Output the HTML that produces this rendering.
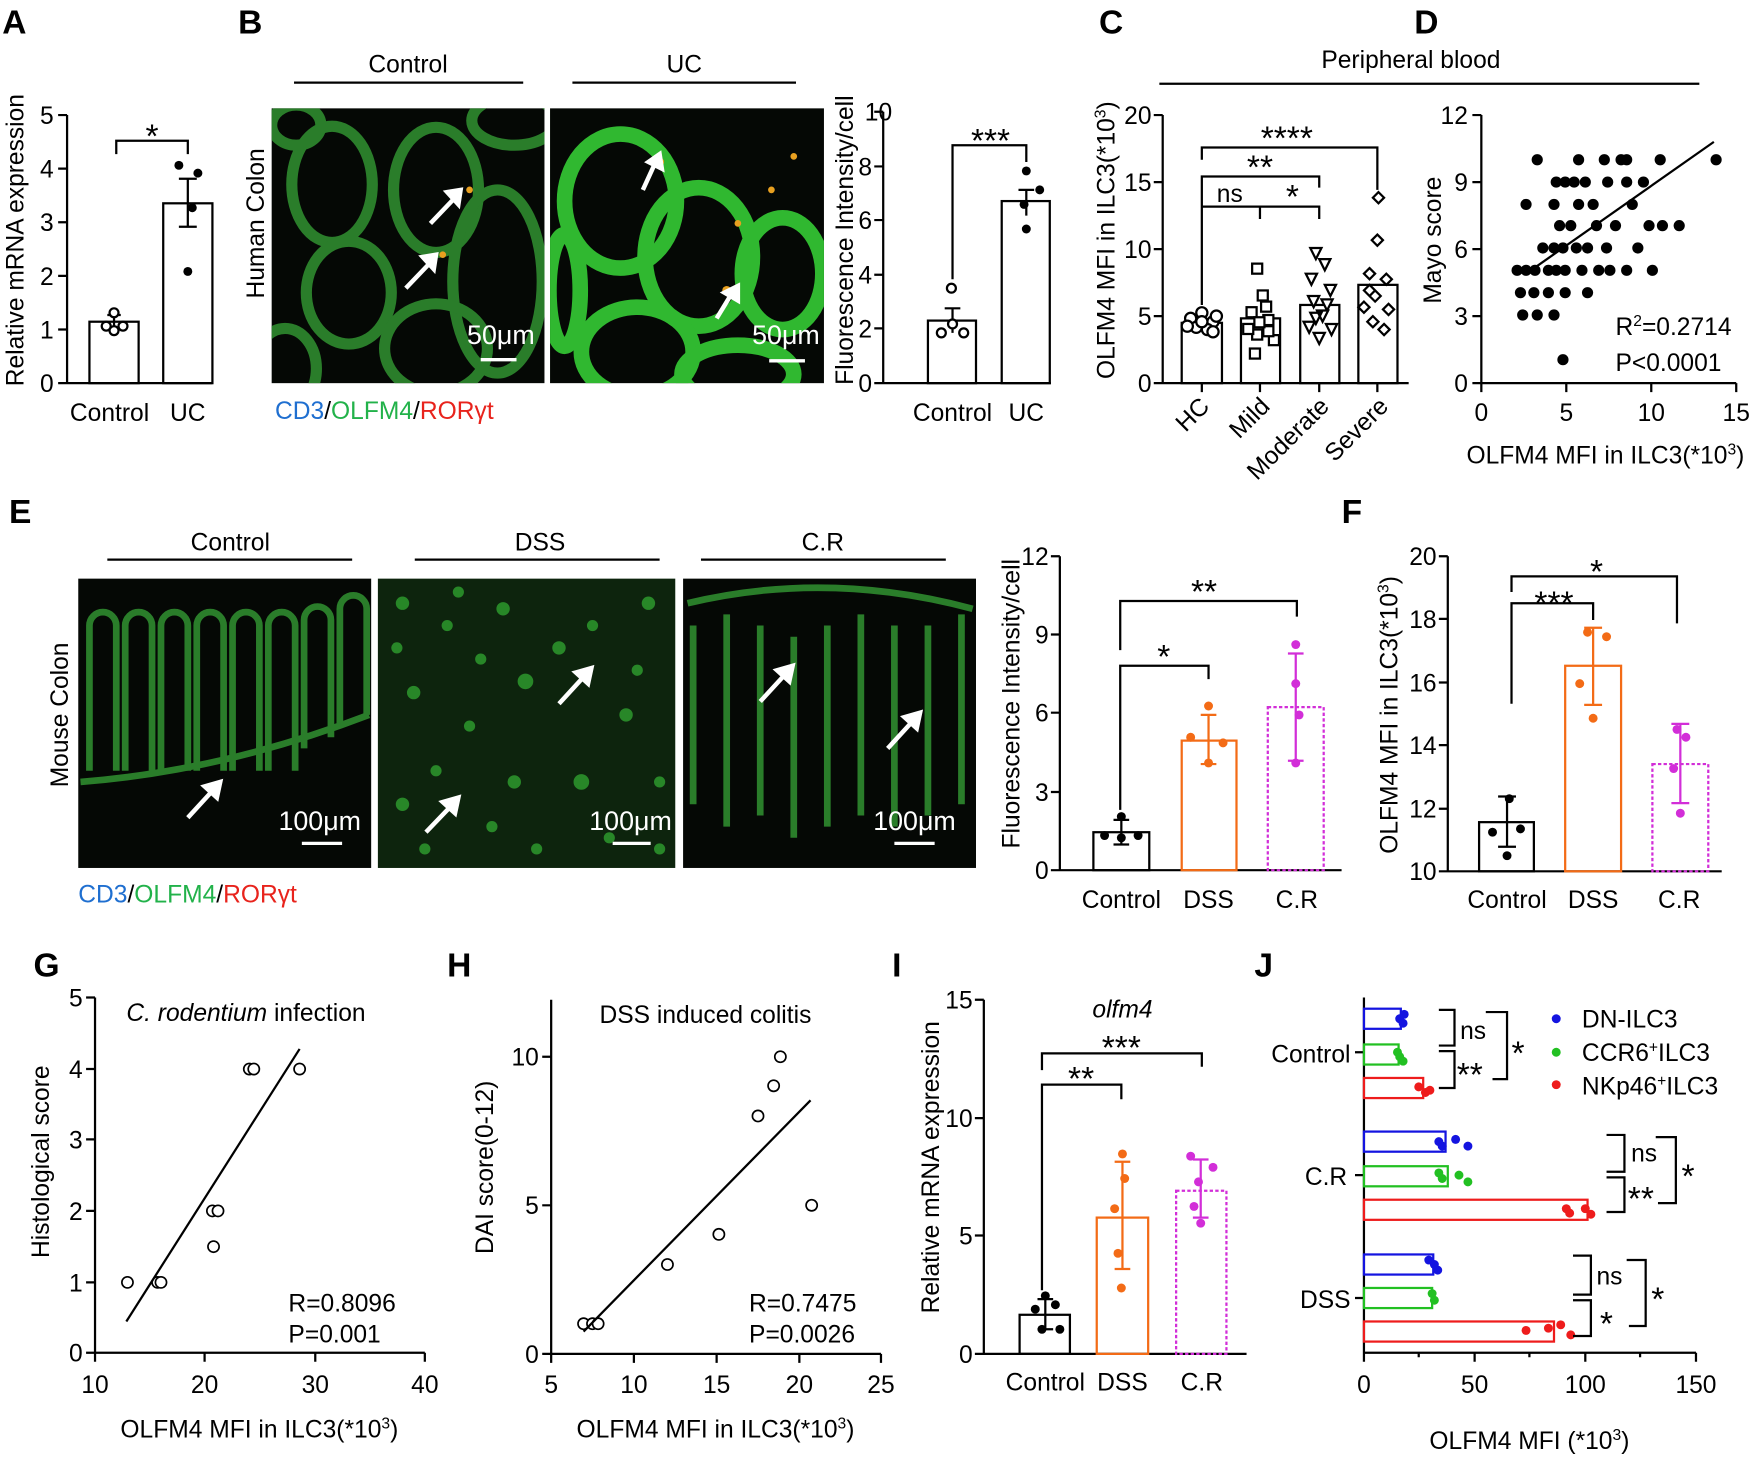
<!DOCTYPE html>
<html><head><meta charset="utf-8"><style>
html,body{margin:0;padding:0;background:#fff}
svg{display:block}
text{font-family:"Liberation Sans Narrow","Liberation Sans",sans-serif;fill:#000}
.t{font-size:22px}
.k{font-size:22px}
.s{font-size:30px}
.p{font-size:30px;font-weight:bold;font-family:"Liberation Sans",sans-serif}
.ax{stroke:#000;stroke-width:2;fill:none}
.img{fill:#050805}
.r{fill:none;stroke:#2a7d2a;stroke-width:10}
.r2{fill:none;stroke:#30b830;stroke-width:14}
</style></head><body>
<svg width="1753" height="1460" viewBox="0 0 1568 1307" preserveAspectRatio="none" xmlns="http://www.w3.org/2000/svg">
<defs>
<clipPath id="c1"><rect x="243" y="97" width="244" height="246"/></clipPath>
<clipPath id="c2"><rect x="492" y="97" width="245" height="246"/></clipPath>
<clipPath id="c3"><rect x="70" y="518" width="262" height="259"/></clipPath>
<clipPath id="c4"><rect x="338" y="518" width="266" height="259"/></clipPath>
<clipPath id="c5"><rect x="611" y="518" width="262" height="259"/></clipPath>
</defs>
<text class="p" x="2" y="30">A</text><text class="p" x="213" y="30">B</text>
<text class="p" x="983" y="30">C</text><text class="p" x="1265" y="30">D</text>
<text class="p" x="8" y="468">E</text><text class="p" x="1200" y="468">F</text>
<text class="p" x="30" y="874">G</text><text class="p" x="400" y="874">H</text>
<text class="p" x="798" y="874">I</text><text class="p" x="1122" y="874">J</text>

<!-- A -->
<g>
<path class="ax" d="M60 103V343H190M52 103H60M52 151H60M52 199H60M52 247H60M52 295H60M52 343H60"/>
<g class="k" text-anchor="end"><text x="48" y="111">5</text><text x="48" y="159">4</text><text x="48" y="207">3</text><text x="48" y="255">2</text><text x="48" y="303">1</text><text x="48" y="351">0</text></g>
<rect x="80" y="288" width="44" height="55" class="ax"/><rect x="146" y="182" width="44" height="161" class="ax"/>
<path class="ax" d="M102 282V294M96 282H108M96 294H108M168 160V203M160 160H176M160 203H176"/>
<g fill="#fff" stroke="#000" stroke-width="2"><circle cx="95" cy="292" r="4"/><circle cx="102" cy="280" r="4"/><circle cx="110" cy="292" r="4"/><circle cx="102" cy="296" r="4"/></g>
<g fill="#000"><circle cx="160" cy="148" r="4"/><circle cx="177" cy="155" r="4"/><circle cx="172" cy="186" r="4"/><circle cx="168" cy="243" r="4"/></g>
<path class="ax" d="M104 138V126H168V138"/><text class="s" x="136" y="132" text-anchor="middle">*</text>
<text class="t" transform="translate(21,215) rotate(-90)" text-anchor="middle">Relative mRNA expression</text>
<text class="t" x="98" y="377" text-anchor="middle">Control</text><text class="t" x="168" y="377" text-anchor="middle">UC</text>
</g>

<!-- B -->
<g>
<text class="t" x="365" y="65" text-anchor="middle">Control</text><path class="ax" d="M263 74H468"/>
<text class="t" x="612" y="65" text-anchor="middle">UC</text><path class="ax" d="M512 74H712"/>
<text class="t" transform="translate(236,200) rotate(-90)" text-anchor="middle">Human Colon</text>
<rect class="img" x="243" y="97" width="244" height="246"/>
<g class="r" clip-path="url(#c1)"><ellipse cx="297" cy="165" rx="36" ry="52"/><ellipse cx="390" cy="170" rx="38" ry="56"/><ellipse cx="312" cy="262" rx="38" ry="46"/><ellipse cx="255" cy="330" rx="28" ry="36"/><ellipse cx="445" cy="252" rx="40" ry="82"/><ellipse cx="390" cy="312" rx="46" ry="40"/><ellipse cx="265" cy="112" rx="22" ry="18"/><ellipse cx="460" cy="108" rx="38" ry="22"/></g>
<rect class="img" x="492" y="97" width="245" height="246"/>
<g class="r2" clip-path="url(#c2)"><ellipse cx="555" cy="180" rx="50" ry="60"/><ellipse cx="625" cy="230" rx="48" ry="62"/><ellipse cx="700" cy="245" rx="36" ry="50"/><ellipse cx="570" cy="315" rx="50" ry="40"/><ellipse cx="660" cy="335" rx="50" ry="26"/><ellipse cx="505" cy="260" rx="14" ry="50"/></g>
<g fill="#e8a020" clip-path="url(#c2)"><circle cx="590" cy="145" r="4"/><circle cx="650" cy="260" r="4"/><circle cx="690" cy="170" r="3"/><circle cx="660" cy="200" r="3"/><circle cx="710" cy="140" r="3"/></g>
<g fill="#e8a020"><circle cx="420" cy="170" r="3"/><circle cx="396" cy="228" r="3"/></g>
<g stroke="#fff" stroke-width="4" fill="#fff"><path d="M385 200L407 177"/><path d="M400 172L412 170L410 183Z"/><path d="M363 258L385 235"/><path d="M378 230L390 228L388 241Z"/><path d="M575 170L586 146"/><path d="M580 145L590 138L592 151Z"/><path d="M641 285L655 262"/><path d="M648 262L660 256L660 269Z"/></g>
<text x="448" y="308" style="fill:#fff;font-size:24px" text-anchor="middle">50μm</text><path d="M430 322H462" stroke="#fff" stroke-width="3"/>
<text x="703" y="308" style="fill:#fff;font-size:24px" text-anchor="middle">50μm</text><path d="M688 323H720" stroke="#fff" stroke-width="3"/>
<text class="t" x="246" y="375"><tspan style="fill:#1f6fd0">CD3</tspan>/<tspan style="fill:#22b24a">OLFM4</tspan>/<tspan style="fill:#e8231c">RORγt</tspan></text>
<path class="ax" d="M790 100V343H940M782 100H790M782 149H790M782 197H790M782 246H790M782 294H790M782 343H790"/>
<g class="k" text-anchor="end"><text x="798" y="108">10</text><text x="780" y="157">8</text><text x="780" y="205">6</text><text x="780" y="254">4</text><text x="780" y="302">2</text><text x="780" y="351">0</text></g>
<rect x="830" y="287" width="43" height="56" class="ax"/><rect x="896" y="180" width="43" height="163" class="ax"/>
<path class="ax" d="M852 276V298M845 276H859M918 170V193M911 170H925"/>
<g fill="#fff" stroke="#000" stroke-width="2"><circle cx="851" cy="258" r="4"/><circle cx="842" cy="298" r="4"/><circle cx="862" cy="298" r="4"/><circle cx="852" cy="290" r="4"/></g>
<g fill="#000"><circle cx="918" cy="153" r="4"/><circle cx="916" cy="183" r="4"/><circle cx="918" cy="205" r="4"/><circle cx="930" cy="170" r="4"/></g>
<path class="ax" d="M852 250V130H918V145"/><text class="s" x="886" y="136" text-anchor="middle">***</text>
<text class="t" transform="translate(763,215) rotate(-90)" text-anchor="middle">Fluorescence Intensity/cell</text>
<text class="t" x="852" y="377" text-anchor="middle">Control</text><text class="t" x="918" y="377" text-anchor="middle">UC</text>
</g>

<!-- C -->
<g>
<text class="t" x="1262" y="61" text-anchor="middle">Peripheral blood</text><path class="ax" d="M1037 75H1520"/>
<path class="ax" d="M1040 103V343H1260M1032 103H1040M1032 163H1040M1032 223H1040M1032 283H1040M1032 343H1040M1075 343V351M1127 343V351M1180 343V351M1232 343V351"/>
<g class="k" text-anchor="end"><text x="1030" y="111">20</text><text x="1030" y="171">15</text><text x="1030" y="231">10</text><text x="1030" y="291">5</text><text x="1030" y="351">0</text></g>
<text class="t" transform="translate(997,215) rotate(-90)" text-anchor="middle">OLFM4 MFI in ILC3(*10<tspan dy="-8" font-size="14">3</tspan><tspan dy="8">)</tspan></text>
<rect x="1057" y="289" width="36" height="54" class="ax"/><rect x="1110" y="285" width="35" height="58" class="ax"/><rect x="1163" y="273" width="35" height="70" class="ax"/><rect x="1215" y="255" width="35" height="88" class="ax"/>
<g fill="#fff" stroke="#000" stroke-width="2">
<circle cx="1065" cy="285" r="5"/><circle cx="1075" cy="280" r="5"/><circle cx="1085" cy="288" r="5"/><circle cx="1070" cy="293" r="5"/><circle cx="1080" cy="295" r="5"/><circle cx="1075" cy="288" r="5"/><circle cx="1088" cy="283" r="5"/><circle cx="1062" cy="292" r="5"/><circle cx="1085" cy="297" r="5"/>
<rect x="1120" y="236" width="9" height="9"/><rect x="1125" y="260" width="9" height="9"/><rect x="1115" y="275" width="9" height="9"/><rect x="1130" y="282" width="9" height="9"/><rect x="1120" y="295" width="9" height="9"/><rect x="1135" y="300" width="9" height="9"/><rect x="1118" y="312" width="9" height="9"/><rect x="1128" y="270" width="9" height="9"/><rect x="1112" y="290" width="9" height="9"/><rect x="1130" y="292" width="9" height="9"/><rect x="1122" y="284" width="9" height="9"/>
<path d="M1172 222l10 0-5 10z M1180 232l10 0-5 10z M1168 245l10 0-5 10z M1185 255l10 0-5 10z M1170 265l10 0-5 10z M1178 278l10 0-5 10z M1166 288l10 0-5 10z M1186 290l10 0-5 10z M1175 298l10 0-5 10z M1182 268l10 0-5 10z M1172 280l10 0-5 10z"/>
<path d="M1233 172l5 5-5 5-5-5z M1232 210l5 5-5 5-5-5z M1225 240l5 5-5 5-5-5z M1240 245l5 5-5 5-5-5z M1230 260l5 5-5 5-5-5z M1220 270l5 5-5 5-5-5z M1242 272l5 5-5 5-5-5z M1228 283l5 5-5 5-5-5z M1238 290l5 5-5 5-5-5z M1225 255l5 5-5 5-5-5z"/>
</g>
<path class="ax" d="M1075 273V158H1180V168M1075 196V185H1127V196M1127 196V185H1180V196M1075 143V132H1232V170"/>
<text class="s" x="1151" y="134" text-anchor="middle">****</text><text class="s" x="1127" y="160" text-anchor="middle">**</text>
<text class="t" x="1100" y="181" text-anchor="middle">ns</text><text class="s" x="1156" y="186" text-anchor="middle">*</text>
<g class="t" text-anchor="end"><text transform="translate(1083,365) rotate(-45)">HC</text><text transform="translate(1137,365) rotate(-45)">Mild</text><text transform="translate(1190,365) rotate(-45)">Moderate</text><text transform="translate(1243,365) rotate(-45)">Severe</text></g>
</g>

<!-- D -->
<g>
<path class="ax" d="M1325 103V343H1553M1317 103H1325M1317 163H1325M1317 223H1325M1317 283H1325M1317 343H1325M1325 343V351M1401 343V351M1477 343V351M1553 343V351"/>
<g class="k" text-anchor="end"><text x="1313" y="111">12</text><text x="1313" y="171">9</text><text x="1313" y="231">6</text><text x="1313" y="291">3</text><text x="1313" y="351">0</text></g>
<g class="k" text-anchor="middle"><text x="1325" y="377">0</text><text x="1401" y="377">5</text><text x="1477" y="377">10</text><text x="1553" y="377">15</text></g>
<text class="t" x="1436" y="415" text-anchor="middle">OLFM4 MFI in ILC3(*10<tspan dy="-8" font-size="14">3</tspan><tspan dy="8">)</tspan></text>
<text class="t" transform="translate(1289,215) rotate(-90)" text-anchor="middle">Mayo score</text>
<g fill="#000">
<circle cx="1375" cy="143" r="5"/><circle cx="1412" cy="143" r="5"/><circle cx="1450" cy="143" r="5"/><circle cx="1455" cy="143" r="5"/><circle cx="1485" cy="143" r="5"/><circle cx="1535" cy="143" r="5"/><circle cx="1435" cy="143" r="5"/>
<circle cx="1392" cy="163" r="5"/><circle cx="1400" cy="163" r="5"/><circle cx="1408" cy="163" r="5"/><circle cx="1418" cy="163" r="5"/><circle cx="1438" cy="163" r="5"/><circle cx="1455" cy="163" r="5"/><circle cx="1470" cy="163" r="5"/>
<circle cx="1365" cy="183" r="5"/><circle cx="1390" cy="183" r="5"/><circle cx="1412" cy="183" r="5"/><circle cx="1425" cy="183" r="5"/><circle cx="1460" cy="183" r="5"/>
<circle cx="1395" cy="202" r="5"/><circle cx="1405" cy="202" r="5"/><circle cx="1428" cy="202" r="5"/><circle cx="1445" cy="202" r="5"/><circle cx="1475" cy="202" r="5"/><circle cx="1487" cy="202" r="5"/><circle cx="1502" cy="202" r="5"/>
<circle cx="1380" cy="222" r="5"/><circle cx="1390" cy="222" r="5"/><circle cx="1398" cy="222" r="5"/><circle cx="1410" cy="222" r="5"/><circle cx="1420" cy="222" r="5"/><circle cx="1437" cy="222" r="5"/><circle cx="1465" cy="222" r="5"/>
<circle cx="1385" cy="242" r="5"/><circle cx="1400" cy="242" r="5"/><circle cx="1415" cy="242" r="5"/><circle cx="1440" cy="242" r="5"/><circle cx="1455" cy="242" r="5"/><circle cx="1357" cy="242" r="5"/><circle cx="1365" cy="242" r="5"/><circle cx="1373" cy="242" r="5"/><circle cx="1392" cy="242" r="5"/><circle cx="1430" cy="242" r="5"/><circle cx="1478" cy="242" r="5"/>
<circle cx="1360" cy="262" r="5"/><circle cx="1372" cy="262" r="5"/><circle cx="1385" cy="262" r="5"/><circle cx="1400" cy="262" r="5"/><circle cx="1420" cy="262" r="5"/>
<circle cx="1362" cy="282" r="5"/><circle cx="1375" cy="282" r="5"/><circle cx="1390" cy="282" r="5"/><circle cx="1398" cy="322" r="5"/>
</g>
<path class="ax" d="M1368 243L1533 127"/>
<text class="t" x="1445" y="300">R<tspan dy="-8" font-size="14">2</tspan><tspan dy="8">=0.2714</tspan></text>
<text class="t" x="1445" y="332">P&lt;0.0001</text>
</g>

<!-- E -->
<g>
<text class="t" x="206" y="493" text-anchor="middle">Control</text><path class="ax" d="M96 501H315"/>
<text class="t" x="483" y="493" text-anchor="middle">DSS</text><path class="ax" d="M371 501H590"/>
<text class="t" x="736" y="493" text-anchor="middle">C.R</text><path class="ax" d="M627 501H846"/>
<text class="t" transform="translate(61,640) rotate(-90)" text-anchor="middle">Mouse Colon</text>
<rect class="img" x="70" y="518" width="262" height="259"/>
<g fill="none" stroke="#2a7d2a" stroke-width="6" clip-path="url(#c3)"><path d="M80 690V560a12 12 0 0 1 24 0V690M112 690V560a12 12 0 0 1 24 0V690M144 690V560a12 12 0 0 1 24 0V690M176 690V560a12 12 0 0 1 24 0V690M208 690V560a12 12 0 0 1 24 0V690M240 690V560a12 12 0 0 1 24 0V690M272 670V555a12 12 0 0 1 24 0V660M304 650V545a12 12 0 0 1 24 0V640"/><path d="M72 700Q200 690 330 640"/></g>
<rect x="338" y="518" width="266" height="259" style="fill:#0d240d"/>
<g fill="#2fa02f" opacity="0.8" clip-path="url(#c4)"><circle cx="360" cy="540" r="6"/><circle cx="400" cy="560" r="5"/><circle cx="450" cy="545" r="6"/><circle cx="530" cy="560" r="5"/><circle cx="580" cy="540" r="6"/><circle cx="370" cy="620" r="6"/><circle cx="420" cy="650" r="5"/><circle cx="470" cy="610" r="7"/><circle cx="560" cy="640" r="6"/><circle cx="590" cy="700" r="5"/><circle cx="360" cy="720" r="6"/><circle cx="440" cy="740" r="5"/><circle cx="520" cy="700" r="7"/><circle cx="480" cy="760" r="5"/><circle cx="390" cy="690" r="5"/><circle cx="545" cy="750" r="5"/><circle cx="355" cy="580" r="5"/><circle cx="430" cy="590" r="5"/><circle cx="500" cy="580" r="6"/><circle cx="570" cy="600" r="5"/><circle cx="380" cy="760" r="5"/><circle cx="460" cy="700" r="6"/><circle cx="590" cy="760" r="5"/><circle cx="410" cy="530" r="5"/></g>
<rect class="img" x="611" y="518" width="262" height="259"/>
<g fill="none" stroke="#2a7d2a" stroke-width="6" clip-path="url(#c5)"><path d="M620 720V560M650 740V550M680 730V560M710 750V570M740 740V560M770 730V550M800 740V560M830 730V560M860 720V550M615 540Q740 510 870 545"/></g>
<g stroke="#fff" stroke-width="4" fill="#fff"><path d="M168 732L190 708"/><path d="M183 704L197 700L194 714Z"/><path d="M381 745L403 722"/><path d="M396 718L410 714L407 728Z"/><path d="M500 630L522 606"/><path d="M515 602L529 598L526 612Z"/><path d="M680 628L702 604"/><path d="M695 600L709 596L706 610Z"/><path d="M794 670L816 646"/><path d="M809 642L823 638L820 652Z"/></g>
<g style="font-size:24px" text-anchor="middle"><text x="286" y="743" style="fill:#fff">100μm</text><text x="564" y="743" style="fill:#fff">100μm</text><text x="818" y="743" style="fill:#fff">100μm</text></g>
<g stroke="#fff" stroke-width="3"><path d="M270 755H306M548 755H582M800 755H836"/></g>
<text class="t" x="70" y="808"><tspan style="fill:#1f6fd0">CD3</tspan>/<tspan style="fill:#22b24a">OLFM4</tspan>/<tspan style="fill:#e8231c">RORγt</tspan></text>
<path class="ax" d="M948 498V779H1200M940 498H948M940 568H948M940 638H948M940 709H948M940 779H948"/>
<g class="k" text-anchor="end"><text x="938" y="506">12</text><text x="938" y="576">9</text><text x="938" y="646">6</text><text x="938" y="717">3</text><text x="938" y="787">0</text></g>
<text class="t" transform="translate(912,630) rotate(-90)" text-anchor="middle">Fluorescence Intensity/cell</text>
<rect x="978" y="745" width="50" height="34" class="ax"/><rect x="1057" y="663" width="49" height="116" fill="none" stroke="#f36b16" stroke-width="2"/><rect x="1134" y="633" width="50" height="146" fill="none" stroke="#d22ed8" stroke-width="2" stroke-dasharray="3 2"/>
<path class="ax" d="M1003 734V756M996 734H1010M996 756H1010"/>
<path d="M1081 640V684M1074 640H1088M1074 684H1088" stroke="#f36b16" stroke-width="2"/>
<path d="M1159 585V681M1152 585H1166M1152 681H1166" stroke="#d22ed8" stroke-width="2"/>
<g fill="#000"><circle cx="988" cy="748" r="4"/><circle cx="1003" cy="731" r="4"/><circle cx="1018" cy="748" r="4"/><circle cx="1003" cy="750" r="4"/></g>
<g fill="#f36b16"><circle cx="1065" cy="660" r="4"/><circle cx="1081" cy="632" r="4"/><circle cx="1094" cy="665" r="4"/><circle cx="1081" cy="683" r="4"/></g>
<g fill="#d22ed8"><circle cx="1159" cy="577" r="4"/><circle cx="1159" cy="612" r="4"/><circle cx="1162" cy="640" r="4"/><circle cx="1159" cy="683" r="4"/></g>
<path class="ax" d="M1002 725V596H1081V608M1002 582V538H1160V552"/>
<text class="s" x="1041" y="598" text-anchor="middle">*</text><text class="s" x="1077" y="540" text-anchor="middle">**</text>
<text class="t" x="1003" y="813" text-anchor="middle">Control</text><text class="t" x="1081" y="813" text-anchor="middle">DSS</text><text class="t" x="1160" y="813" text-anchor="middle">C.R</text>
</g>

<!-- F -->
<g>
<path class="ax" d="M1295 498V780H1540M1287 498H1295M1287 554H1295M1287 611H1295M1287 667H1295M1287 724H1295M1287 780H1295"/>
<g class="k" text-anchor="end"><text x="1285" y="506">20</text><text x="1285" y="562">18</text><text x="1285" y="619">16</text><text x="1285" y="675">14</text><text x="1285" y="732">12</text><text x="1285" y="788">10</text></g>
<text class="t" transform="translate(1250,640) rotate(-90)" text-anchor="middle">OLFM4 MFI in ILC3(*10<tspan dy="-8" font-size="14">3</tspan><tspan dy="8">)</tspan></text>
<rect x="1323" y="736" width="49" height="44" class="ax"/><rect x="1400" y="596" width="50" height="184" fill="none" stroke="#f36b16" stroke-width="2"/><rect x="1478" y="684" width="50" height="96" fill="none" stroke="#d22ed8" stroke-width="2" stroke-dasharray="3 2"/>
<path class="ax" d="M1348 713V758M1340 713H1356M1340 758H1356"/>
<path d="M1425 562V631M1417 562H1433M1417 631H1433" stroke="#f36b16" stroke-width="2"/>
<path d="M1503 648V719M1495 648H1511M1495 719H1511" stroke="#d22ed8" stroke-width="2"/>
<g fill="#000"><circle cx="1335" cy="745" r="4"/><circle cx="1350" cy="715" r="4"/><circle cx="1360" cy="742" r="4"/><circle cx="1348" cy="766" r="4"/></g>
<g fill="#f36b16"><circle cx="1420" cy="566" r="4"/><circle cx="1437" cy="570" r="4"/><circle cx="1413" cy="612" r="4"/><circle cx="1425" cy="643" r="4"/></g>
<g fill="#d22ed8"><circle cx="1500" cy="653" r="4"/><circle cx="1508" cy="660" r="4"/><circle cx="1497" cy="688" r="4"/><circle cx="1503" cy="728" r="4"/></g>
<path class="ax" d="M1352 630V540H1425V555M1352 530V516H1500V558"/>
<text class="s" x="1390" y="550" text-anchor="middle">***</text><text class="s" x="1428" y="522" text-anchor="middle">*</text>
<text class="t" x="1348" y="813" text-anchor="middle">Control</text><text class="t" x="1425" y="813" text-anchor="middle">DSS</text><text class="t" x="1502" y="813" text-anchor="middle">C.R</text>
</g>

<!-- G -->
<g>
<path class="ax" d="M85 893V1211H380M77 893H85M77 957H85M77 1020H85M77 1084H85M77 1148H85M77 1211H85M85 1211V1219M183 1211V1219M282 1211V1219M380 1211V1219"/>
<g class="k" text-anchor="end"><text x="74" y="901">5</text><text x="74" y="965">4</text><text x="74" y="1028">3</text><text x="74" y="1092">2</text><text x="74" y="1156">1</text><text x="74" y="1219">0</text></g>
<g class="k" text-anchor="middle"><text x="85" y="1247">10</text><text x="183" y="1247">20</text><text x="282" y="1247">30</text><text x="380" y="1247">40</text></g>
<text class="t" x="232" y="1287" text-anchor="middle">OLFM4 MFI in ILC3(*10<tspan dy="-8" font-size="14">3</tspan><tspan dy="8">)</tspan></text>
<text class="t" transform="translate(44,1040) rotate(-90)" text-anchor="middle">Histological  score</text>
<text class="t" x="220" y="914" text-anchor="middle"><tspan font-style="italic">C. rodentium</tspan> infection</text>
<g fill="#fff" stroke="#000" stroke-width="1.5"><circle cx="114" cy="1148" r="5"/><circle cx="141" cy="1148" r="5"/><circle cx="144" cy="1148" r="5"/><circle cx="190" cy="1084" r="5"/><circle cx="195" cy="1084" r="5"/><circle cx="191" cy="1116" r="5"/><circle cx="223" cy="957" r="5"/><circle cx="227" cy="957" r="5"/><circle cx="268" cy="957" r="5"/></g>
<path class="ax" d="M113 1183L268 939"/>
<text class="t" x="258" y="1174">R=0.8096</text><text class="t" x="258" y="1202">P=0.001</text>
</g>

<!-- H -->
<g>
<path class="ax" d="M493 895V1212H788M485 946H493M485 1079H493M485 1212H493M493 1212V1220M567 1212V1220M641 1212V1220M715 1212V1220M788 1212V1220"/>
<g class="k" text-anchor="end"><text x="482" y="954">10</text><text x="482" y="1087">5</text><text x="482" y="1220">0</text></g>
<g class="k" text-anchor="middle"><text x="493" y="1247">5</text><text x="567" y="1247">10</text><text x="641" y="1247">15</text><text x="715" y="1247">20</text><text x="788" y="1247">25</text></g>
<text class="t" x="640" y="1287" text-anchor="middle">OLFM4 MFI in ILC3(*10<tspan dy="-8" font-size="14">3</tspan><tspan dy="8">)</tspan></text>
<text class="t" transform="translate(441,1045) rotate(-90)" text-anchor="middle">DAI score(0-12)</text>
<text class="t" x="631" y="916" text-anchor="middle">DSS induced colitis</text>
<g fill="#fff" stroke="#000" stroke-width="1.5"><circle cx="522" cy="1185" r="5"/><circle cx="530" cy="1185" r="5"/><circle cx="535" cy="1185" r="5"/><circle cx="597" cy="1132" r="5"/><circle cx="643" cy="1105" r="5"/><circle cx="678" cy="999" r="5"/><circle cx="692" cy="972" r="5"/><circle cx="698" cy="946" r="5"/><circle cx="726" cy="1079" r="5"/></g>
<path class="ax" d="M522 1192L725 985"/>
<text class="t" x="670" y="1174">R=0.7475</text><text class="t" x="670" y="1202">P=0.0026</text>
</g>

<!-- I -->
<g>
<path class="ax" d="M880 895V1212H1115M872 895H880M872 1001H880M872 1106H880M872 1212H880"/>
<g class="k" text-anchor="end"><text x="870" y="903">15</text><text x="870" y="1009">10</text><text x="870" y="1114">5</text><text x="870" y="1220">0</text></g>
<text class="t" transform="translate(840,1045) rotate(-90)" text-anchor="middle">Relative mRNA  expression</text>
<text class="t" x="1004" y="911" text-anchor="middle" font-style="italic">olfm4</text>
<rect x="912" y="1177" width="45" height="35" class="ax"/><rect x="981" y="1090" width="46" height="122" fill="none" stroke="#f36b16" stroke-width="2"/><rect x="1052" y="1066" width="45" height="146" fill="none" stroke="#d22ed8" stroke-width="2" stroke-dasharray="3 2"/>
<path class="ax" d="M935 1163V1190M928 1163H942M928 1190H942"/>
<path d="M1004 1040V1136M997 1040H1011M997 1136H1011" stroke="#f36b16" stroke-width="2"/>
<path d="M1074 1038V1090M1067 1038H1081M1067 1090H1081" stroke="#d22ed8" stroke-width="2"/>
<g fill="#000"><circle cx="926" cy="1172" r="4"/><circle cx="935" cy="1160" r="4"/><circle cx="944" cy="1168" r="4"/><circle cx="932" cy="1190" r="4"/><circle cx="948" cy="1190" r="4"/></g>
<g fill="#f36b16"><circle cx="1004" cy="1033" r="4"/><circle cx="1006" cy="1055" r="4"/><circle cx="997" cy="1082" r="4"/><circle cx="1000" cy="1122" r="4"/><circle cx="1003" cy="1153" r="4"/></g>
<g fill="#d22ed8"><circle cx="1065" cy="1035" r="4"/><circle cx="1085" cy="1045" r="4"/><circle cx="1072" cy="1058" r="4"/><circle cx="1068" cy="1080" r="4"/><circle cx="1074" cy="1095" r="4"/></g>
<path class="ax" d="M932 1155V971H1003V984M932 958V943H1075V955"/>
<text class="s" x="967" y="976" text-anchor="middle">**</text><text class="s" x="1003" y="948" text-anchor="middle">***</text>
<text class="t" x="935" y="1245" text-anchor="middle">Control</text><text class="t" x="1004" y="1245" text-anchor="middle">DSS</text><text class="t" x="1075" y="1245" text-anchor="middle">C.R</text>
</g>

<!-- J -->
<g>
<path class="ax" d="M1220 893V1211H1517M1212 942H1220M1212 1052H1220M1212 1162H1220M1220 1211V1219M1269 1211V1215M1319 1211V1219M1368 1211V1215M1418 1211V1219M1467 1211V1215M1517 1211V1219"/>
<g class="k" text-anchor="middle"><text x="1220" y="1247">0</text><text x="1319" y="1247">50</text><text x="1418" y="1247">100</text><text x="1517" y="1247">150</text></g>
<text class="t" x="1368" y="1297" text-anchor="middle">OLFM4 MFI (*10<tspan dy="-8" font-size="14">3</tspan><tspan dy="8">)</tspan></text>
<g class="t" text-anchor="end"><text x="1208" y="951">Control</text><text x="1205" y="1061">C.R</text><text x="1208" y="1171">DSS</text></g>
<g fill="none" stroke-width="2">
<rect x="1220" y="903" width="33" height="18" stroke="#1414e0"/><rect x="1220" y="935" width="31" height="18" stroke="#22c022"/><rect x="1220" y="965" width="53" height="18" stroke="#ee1c1c"/>
<rect x="1220" y="1013" width="73" height="18" stroke="#1414e0"/><rect x="1220" y="1044" width="75" height="18" stroke="#22c022"/><rect x="1220" y="1074" width="200" height="18" stroke="#ee1c1c"/>
<rect x="1220" y="1123" width="62" height="18" stroke="#1414e0"/><rect x="1220" y="1153" width="61" height="18" stroke="#22c022"/><rect x="1220" y="1183" width="170" height="18" stroke="#ee1c1c"/>
</g>
<g fill="#1414e0"><circle cx="1252" cy="912" r="4"/><circle cx="1255" cy="916" r="4"/><circle cx="1256" cy="908" r="4"/><circle cx="1287" cy="1022" r="4"/><circle cx="1290" cy="1026" r="4"/><circle cx="1302" cy="1020" r="4"/><circle cx="1313" cy="1026" r="4"/><circle cx="1278" cy="1128" r="4"/><circle cx="1283" cy="1132" r="4"/><circle cx="1286" cy="1137" r="4"/><circle cx="1392" cy="912" r="4"/></g>
<g fill="#22c022"><circle cx="1250" cy="942" r="4"/><circle cx="1252" cy="946" r="4"/><circle cx="1255" cy="950" r="4"/><circle cx="1287" cy="1050" r="4"/><circle cx="1290" cy="1055" r="4"/><circle cx="1305" cy="1052" r="4"/><circle cx="1313" cy="1058" r="4"/><circle cx="1281" cy="1158" r="4"/><circle cx="1283" cy="1164" r="4"/><circle cx="1392" cy="942" r="4"/></g>
<g fill="#ee1c1c"><circle cx="1269" cy="973" r="4"/><circle cx="1275" cy="978" r="4"/><circle cx="1279" cy="976" r="4"/><circle cx="1401" cy="1082" r="4"/><circle cx="1404" cy="1086" r="4"/><circle cx="1418" cy="1082" r="4"/><circle cx="1423" cy="1087" r="4"/><circle cx="1365" cy="1191" r="4"/><circle cx="1385" cy="1189" r="4"/><circle cx="1396" cy="1186" r="4"/><circle cx="1405" cy="1195" r="4"/><circle cx="1392" cy="971" r="4"/></g>
<path class="ax" d="M1287 904H1301V936H1287M1287 941H1301V974H1287M1329 906H1348V966H1335M1437 1016H1453V1049H1437M1437 1054H1453V1085H1437M1481 1018H1499V1077H1483M1407 1124H1423V1159H1407M1407 1164H1423V1196H1407M1455 1128H1472V1187H1457"/>
<g class="t"><text x="1306" y="930">ns</text><text x="1459" y="1040">ns</text><text x="1428" y="1150">ns</text></g>
<g class="s"><text x="1303" y="972">**</text><text x="1352" y="953">*</text><text x="1456" y="1083">**</text><text x="1504" y="1063">*</text><text x="1431" y="1195">*</text><text x="1477" y="1173">*</text></g>
<g class="t"><text x="1415" y="920">DN-ILC3</text><text x="1415" y="950">CCR6<tspan dy="-8" font-size="14">+</tspan><tspan dy="8">ILC3</tspan></text><text x="1415" y="980">NKp46<tspan dy="-8" font-size="14">+</tspan><tspan dy="8">ILC3</tspan></text></g>
</g>
</svg>
</body></html>
